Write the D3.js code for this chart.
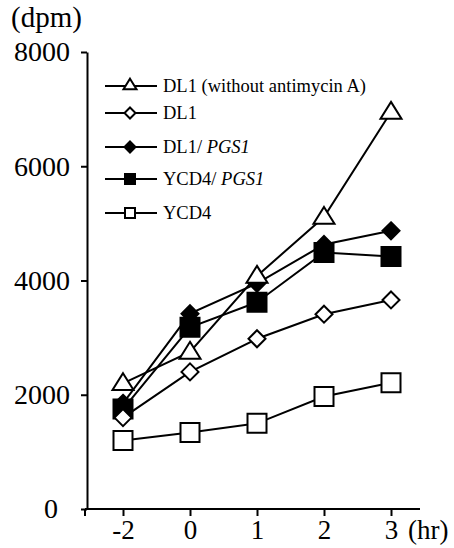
<!DOCTYPE html>
<html>
<head>
<meta charset="utf-8">
<script src="https://cdn.jsdelivr.net/npm/d3@7"></script>
<style>
  body { margin: 0; background: #fff; }
</style>
</head>
<body>
<div class="canvas"></div>
<script>
// data
const hours = ['-2', '0', '1', '2', '3']
const yTicks = [0, 2000, 4000, 6000, 8000]

const dl1NoAntimycin = [2200, 2750, 4080, 5110, 6950]
const dl1 = [1600, 2400, 2980, 3410, 3660]
const dl1Pgs1 = [1850, 3420, 3950, 4630, 4870]
const ycd4Pgs1 = [1750, 3180, 3620, 4490, 4420]
const ycd4 = [1200, 1340, 1500, 1970, 2210]

const series = [
  {name: 'DL1 (without antimycin A)', italic: '', values: dl1NoAntimycin, shape: 'triangle', fill: '#fff'},
  {name: 'DL1', italic: '', values: dl1, shape: 'diamond', fill: '#fff'},
  {name: 'DL1/ ', italic: 'PGS1', values: dl1Pgs1, shape: 'diamond', fill: '#000'},
  {name: 'YCD4/ ', italic: 'PGS1', values: ycd4Pgs1, shape: 'square', fill: '#000'},
  {name: 'YCD4', italic: '', values: ycd4, shape: 'square', fill: '#fff'}
]

const serif = 'Liberation Serif'

const svg = d3.select('.canvas')
  .append('svg')
  .attr('width', 454)
  .attr('height', 548)

const margin = {top: 52, left: 87}
const graphHeight = 509 - margin.top

const graph = svg.append('g')
  .attr('transform', `translate(${margin.left}, ${margin.top})`)

const y = d3.scaleLinear()
  .domain([0, 8000])
  .range([graphHeight, 0])

const x = d3.scalePoint()
  .domain(hours)
  .range([36, 304])

// axes
const yAxis = d3.axisLeft(y)
  .tickValues(yTicks)
  .tickFormat(d3.format('d'))
  .tickSize(6)
  .tickPadding(11)
  .tickSizeOuter(0)

const xAxis = d3.axisBottom(x)
  .tickSize(7)
  .tickPadding(4)
  .tickSizeOuter(0)

const yAxisGroup = graph.append('g').call(yAxis)
const xAxisGroup = graph.append('g')
  .attr('transform', `translate(0, ${graphHeight})`)
  .call(xAxis)

yAxisGroup.select('.domain').attr('stroke-width', 2)
yAxisGroup.selectAll('.tick line').attr('stroke-width', 2)
yAxisGroup.selectAll('text')
  .style('font-family', serif)
  .style('font-size', '28px')
// the zero label sits further left in the original
yAxisGroup.selectAll('.tick')
  .filter(d => d === 0)
  .select('text')
  .attr('x', -29)

// x axis line is drawn a bit wider than the points
xAxisGroup.select('.domain').remove()
xAxisGroup.append('line')
  .attr('x1', -2).attr('x2', 333)
  .attr('stroke', '#000').attr('stroke-width', 2)
xAxisGroup.append('line')
  .attr('x1', -2).attr('x2', -2).attr('y2', 7)
  .attr('stroke', '#000').attr('stroke-width', 2)
xAxisGroup.selectAll('.tick line').attr('stroke-width', 2)

xAxisGroup.append('text')
  .attr('x', 321).attr('y', 30)
  .attr('fill', '#000')
  .attr('text-anchor', 'start')
  .text('(hr)')

xAxisGroup.selectAll('text')
  .style('font-family', serif)
  .style('font-size', '27px')

svg.append('text')
  .attr('x', 11).attr('y', 27)
  .style('font-family', serif)
  .style('font-size', '29px')
  .text('(dpm)')

// marker paths
const marker = (shape, r) => {
  if (shape === 'diamond') return `M0,${-r}L${r},0L0,${r}L${-r},0Z`
  if (shape === 'square') return `M${-r},${-r}H${r}V${r}H${-r}Z`
  const h = r * 1.6
  return `M0,${-h * 0.6}L${r},${h * 0.4}L${-r},${h * 0.4}Z`
}

const line = d3.line()
  .x((d, i) => x(hours[i]))
  .y(d => y(d))

series.forEach(s => {
  graph.append('path')
    .datum(s.values)
    .attr('d', line)
    .attr('fill', 'none')
    .attr('stroke', '#000')
    .attr('stroke-width', 2)
})

const plotSize = {triangle: 10.5, diamond: 8.5, square: 9.5}
const legendSize = {triangle: 6.5, diamond: 5.5, square: 5}

series.slice().reverse().forEach(s => {
  graph.selectAll(null)
    .data(s.values)
    .enter()
    .append('path')
    .attr('transform', (d, i) => `translate(${x(hours[i])}, ${y(d)})`)
    .attr('d', marker(s.shape, plotSize[s.shape]))
    .attr('fill', s.fill)
    .attr('stroke', '#000')
    .attr('stroke-width', 2)
})

// legend (rows are not evenly spaced in the original)
const legendRows = [0, 27, 61, 93, 127]
const legend = svg.append('g')
  .attr('transform', 'translate(105, 86)')

series.forEach((s, i) => {
  const row = legend.append('g').attr('transform', `translate(0, ${legendRows[i]})`)
  row.append('line')
    .attr('x1', 0).attr('x2', 52)
    .attr('stroke', '#000').attr('stroke-width', 2)
  row.append('path')
    .attr('transform', `translate(25, ${s.shape === 'triangle' ? -1 : 0})`)
    .attr('d', marker(s.shape, legendSize[s.shape]))
    .attr('fill', s.fill)
    .attr('stroke', '#000')
    .attr('stroke-width', 2)
  const t = row.append('text')
    .attr('x', 58).attr('y', 6)
    .style('font-family', serif)
    .style('font-size', '18.5px')
    .text(s.name)
  if (s.italic) {
    t.append('tspan').style('font-style', 'italic').text(s.italic)
  }
})
</script>
</body>
</html>
